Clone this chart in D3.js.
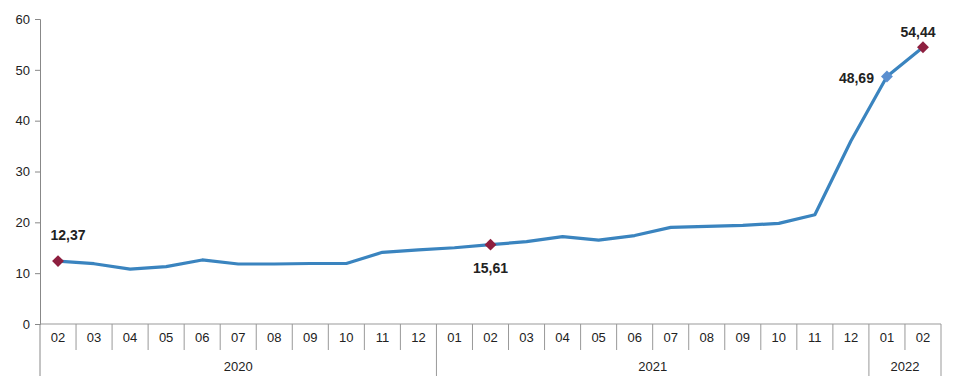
<!DOCTYPE html>
<html>
<head>
<meta charset="utf-8">
<script src="https://cdn.jsdelivr.net/npm/d3@7"></script>
<style>
  body { margin: 0; background: #fff; }
  text { font-family: "Liberation Sans", Arial, sans-serif; fill: #222; }
</style>
</head>
<body>
<div class="canva"></div>
<script>
const months = ["02","03","04","05","06","07","08","09","10","11","12",
  "01","02","03","04","05","06","07","08","09","10","11","12","01","02"]
const years = ["2020","2020","2020","2020","2020","2020","2020","2020","2020","2020","2020",
  "2021","2021","2021","2021","2021","2021","2021","2021","2021","2021","2021","2021","2022","2022"]
const values = [12.37, 11.86, 10.8, 11.3, 12.6, 11.8, 11.8, 11.9, 11.9, 14.1, 14.6,
  15.0, 15.61, 16.2, 17.2, 16.5, 17.4, 19.0, 19.2, 19.4, 19.8, 21.5, 36.0, 48.69, 54.44]
const yTicks = [0, 10, 20, 30, 40, 50, 60]
// which points get a marker + label
const labelled = [0, 12, 23, 24]

const width = 960
const height = 385
const margin = { left: 40, right: 19, top: 19, bottom: 61 }

const svg = d3.select(".canva").append("svg").attr("width", width).attr("height", height)

const keys = months.map((m, i) => i)
const x = d3.scaleBand().domain(keys).range([margin.left, width - margin.right])
const y = d3.scaleLinear().domain([0, 60]).range([height - margin.bottom, margin.top])
const y0 = y(0)

//y axis
const yAxis = svg.append("g")
  .attr("transform", `translate(${margin.left},0)`)
  .call(d3.axisLeft(y).tickValues(yTicks).tickSize(5).tickPadding(5))
yAxis.select(".domain").attr("stroke", "#888")
yAxis.selectAll(".tick line").attr("stroke", "#888")
yAxis.selectAll("text").attr("font-size", 13).attr("fill", "#222")

//x axis baseline and category grid
const axisColor = "#999"
svg.append("line")
  .attr("x1", margin.left).attr("x2", x.range()[1])
  .attr("y1", y0).attr("y2", y0)
  .attr("stroke", axisColor)
svg.append("line")
  .attr("x1", margin.left).attr("x2", margin.left)
  .attr("y1", y0).attr("y2", y0 + 52)
  .attr("stroke", "#888")

keys.forEach(i => {
  const left = x(i)
  const isYearStart = i > 0 && years[i] !== years[i - 1]
  if (i > 0) {
    svg.append("line")
      .attr("x1", left).attr("x2", left)
      .attr("y1", y0).attr("y2", y0 + (isYearStart ? 52 : 26))
      .attr("stroke", axisColor)
  }
  svg.append("text")
    .attr("x", left + x.bandwidth() / 2)
    .attr("y", y0 + 18)
    .attr("text-anchor", "middle")
    .attr("font-size", 13)
    .text(months[i])
})
svg.append("line")
  .attr("x1", x.range()[1]).attr("x2", x.range()[1])
  .attr("y1", y0).attr("y2", y0 + 52)
  .attr("stroke", axisColor)

//year labels
const yearGroups = d3.groups(keys, i => years[i])
yearGroups.forEach(([yr, idx]) => {
  const x1 = x(idx[0])
  const x2 = x(idx[idx.length - 1]) + x.bandwidth()
  svg.append("text")
    .attr("x", (x1 + x2) / 2)
    .attr("y", y0 + 47)
    .attr("text-anchor", "middle")
    .attr("font-size", 13)
    .text(yr)
})

//line
const line = d3.line()
  .x((d, i) => x(i) + x.bandwidth() / 2)
  .y(d => y(d))
svg.append("path")
  .datum(values)
  .attr("fill", "none")
  .attr("stroke", "#3a84bf")
  .attr("stroke-width", 3.2)
  .attr("stroke-linejoin", "round")
  .attr("d", line)

//markers and labels
const labelPos = {
  0: { dx: 10, dy: -21, anchor: "middle", color: "#8e1f3f" },
  12: { dx: 0, dy: 28, anchor: "middle", color: "#8e1f3f" },
  23: { dx: -13, dy: 7, anchor: "end", color: "#5b8fd0" },
  24: { dx: -5, dy: -10, anchor: "middle", color: "#8e1f3f" }
}
const diamond = d3.symbol().type(d3.symbolDiamond2).size(90)
labelled.forEach(i => {
  const cx = x(i) + x.bandwidth() / 2
  const cy = y(values[i])
  const p = labelPos[i]
  svg.append("path")
    .attr("d", diamond)
    .attr("transform", `translate(${cx},${cy})`)
    .attr("fill", p.color)
  svg.append("text")
    .attr("x", cx + p.dx)
    .attr("y", cy + p.dy)
    .attr("text-anchor", p.anchor)
    .attr("font-size", 14)
    .attr("font-weight", "bold")
    .attr("fill", "#111")
    .text(d3.format(".2f")(values[i]).replace(".", ","))
})
</script>
</body>
</html>
